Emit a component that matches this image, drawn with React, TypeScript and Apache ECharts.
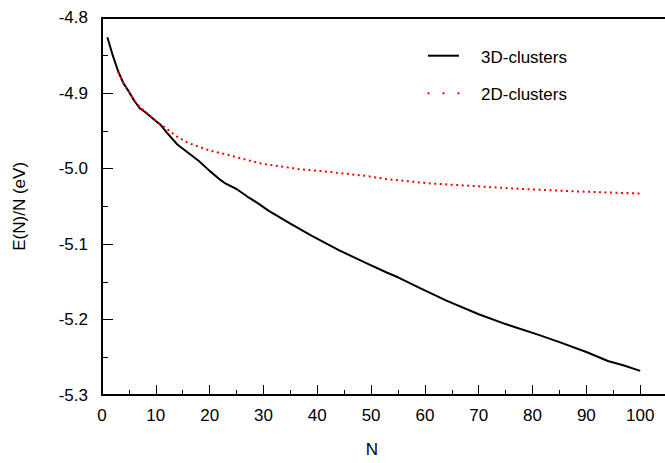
import React, { useEffect, useRef } from "react";
import * as echarts from "echarts";

// 3D clusters: [N, E(N)/N in eV]
const n3D = [1, 2, 3, 4, 5, 6, 7, 8, 9, 10, 11, 12, 14, 16, 18, 20, 22, 23, 25, 27, 29, 31, 35, 39, 44, 49, 53, 55, 59, 64, 70, 75, 81, 85, 90, 94, 97, 100];
const e3D = [-4.826, -4.85, -4.871, -4.887, -4.898, -4.91, -4.92, -4.925, -4.931, -4.937, -4.943, -4.952, -4.968, -4.979, -4.99, -5.003, -5.015, -5.02, -5.027, -5.037, -5.046, -5.056, -5.073, -5.089, -5.108, -5.125, -5.138, -5.144, -5.158, -5.175, -5.193, -5.206, -5.22, -5.23, -5.243, -5.255, -5.261, -5.268];

// 2D clusters
const n2D = [3, 4, 5, 6, 7, 8, 10, 12, 14, 16, 18, 20, 23, 25, 30, 37, 43, 49, 53, 61, 69, 77, 85, 93, 100];
const e2D = [-4.872, -4.887, -4.898, -4.91, -4.918, -4.924, -4.937, -4.947, -4.958, -4.966, -4.971, -4.976, -4.981, -4.985, -4.994, -5.001, -5.005, -5.0096, -5.014, -5.0196, -5.023, -5.0267, -5.0293, -5.0314, -5.033];

const xTickLabels = [0, 10, 20, 30, 40, 50, 60, 70, 80, 90, 100];
const seriesNames = ["3D-clusters", "2D-clusters"];
const xTitle = "N";
const yTitle = "E(N)/N (eV)";

const FONT = "'Liberation Sans', Arial, Helvetica, sans-serif";

export default function App() {
  const ref = useRef<HTMLDivElement>(null);
  useEffect(() => {
    if (!ref.current) return;
    const chart = echarts.init(ref.current, undefined, { renderer: "svg" });
    const d3 = n3D.map((n, i) => [n, e3D[i]]);
    const d2 = n2D.map((n, i) => [n, e2D[i]]);
    const axisLine = { show: true, lineStyle: { color: "#000", width: 2 } };
    chart.setOption({
      animation: false,
      backgroundColor: "#fff",
      grid: { left: 102, top: 17.7, bottom: 66.5, right: 0, containLabel: false },
      xAxis: [
        {
          type: "value",
          min: 0,
          max: 110,
          interval: 10,
          position: "bottom",
          name: xTitle,
          nameLocation: "middle",
          nameGap: 46,
          nameTextStyle: { fontFamily: FONT, fontSize: 17, color: "#000", align: "center", padding: [0, 52, 0, 0] },
          axisLine,
          axisTick: { show: true, inside: true, length: 10, lineStyle: { color: "#000", width: 1 } },
          minorTick: { show: true, splitNumber: 2, length: 5, lineStyle: { color: "#000", width: 1 } },
          axisLabel: {
            margin: 12,
            fontFamily: FONT,
            fontSize: 17,
            color: "#000",
            formatter: (v: number) => (xTickLabels.indexOf(v) >= 0 ? String(v) : ""),
          },
          splitLine: { show: false },
          minorSplitLine: { show: false },
        },
        {
          type: "value",
          min: 0,
          max: 110,
          position: "top",
          axisLine,
          axisTick: { show: false },
          axisLabel: { show: false },
          splitLine: { show: false },
        },
      ],
      yAxis: {
        type: "value",
        min: -5.3,
        max: -4.8,
        interval: 0.1,
        name: yTitle,
        nameLocation: "middle",
        nameGap: 74,
        nameTextStyle: { fontFamily: FONT, fontSize: 17, color: "#000" },
        axisLine,
        axisTick: { show: true, inside: true, length: 11, lineStyle: { color: "#000", width: 1 } },
        minorTick: { show: true, splitNumber: 2, length: 6, lineStyle: { color: "#000", width: 1 } },
        axisLabel: {
          margin: 14,
          fontFamily: FONT,
          fontSize: 17,
          color: "#000",
          formatter: (v: number) => v.toFixed(1),
        },
        splitLine: { show: false },
        minorSplitLine: { show: false },
      },
      series: [
        {
          name: seriesNames[0],
          type: "line",
          data: d3,
          showSymbol: false,
          lineStyle: { color: "#000", width: 2 },
          itemStyle: { color: "#000" },
        },
        {
          name: seriesNames[1],
          type: "line",
          data: d2,
          showSymbol: false,
          lineStyle: { color: "#ff0000", width: 2, type: [2, 3.5] },
          itemStyle: { color: "#ff0000" },
          z: 3,
        },
      ],
      graphic: [
        {
          type: "line",
          shape: { x1: 428, y1: 55.7, x2: 459, y2: 55.7 },
          style: { stroke: "#000", lineWidth: 2 },
        },
        { type: "rect", shape: { x: 427.5, y: 92.3, width: 2, height: 2 }, style: { fill: "#ff0000" } },
        { type: "rect", shape: { x: 442.5, y: 92.3, width: 2, height: 2 }, style: { fill: "#ff0000" } },
        { type: "rect", shape: { x: 457.5, y: 92.3, width: 2, height: 2 }, style: { fill: "#ff0000" } },
        {
          type: "text",
          x: 481,
          y: 57,
          style: { text: seriesNames[0], font: `17px ${FONT}`, fill: "#000", textVerticalAlign: "middle", verticalAlign: "middle" },
        },
        {
          type: "text",
          x: 481,
          y: 94,
          style: { text: seriesNames[1], font: `17px ${FONT}`, fill: "#000", textVerticalAlign: "middle", verticalAlign: "middle" },
        },
      ],
    });
    return () => chart.dispose();
  }, []);
  return (
    <div style={{ position: "absolute", left: 0, top: 0, width: 665, height: 463, overflow: "hidden", background: "#fff" }}>
      <div ref={ref} style={{ width: 697, height: 463 }} />
    </div>
  );
}
